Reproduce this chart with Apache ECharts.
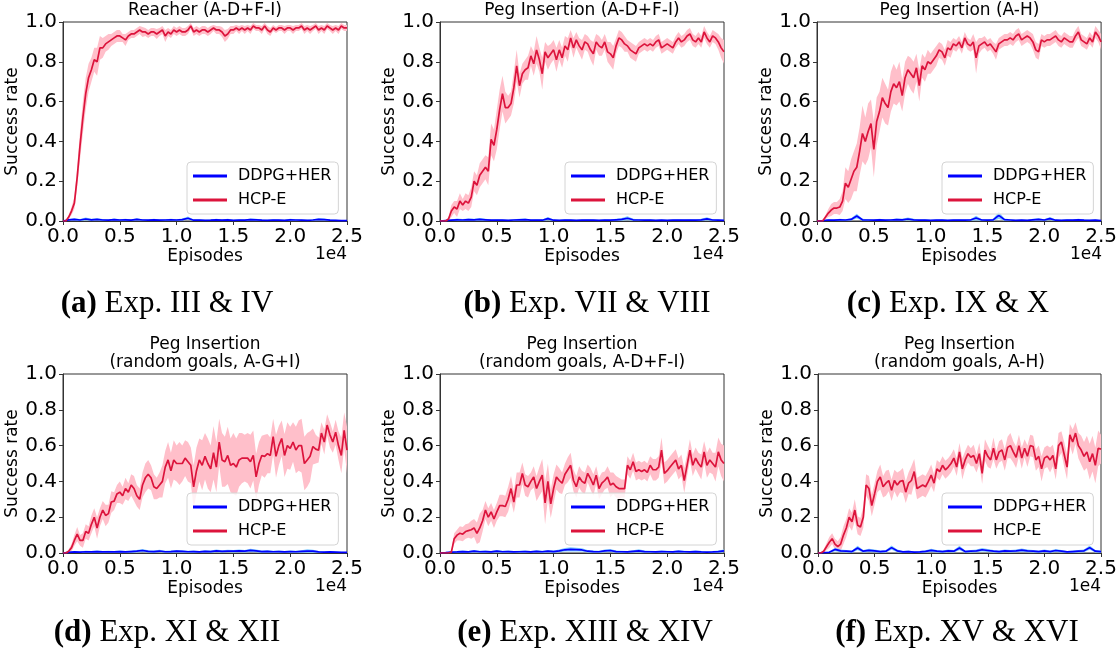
<!DOCTYPE html>
<html>
<head>
<meta charset="utf-8">
<script src="https://cdn.jsdelivr.net/npm/echarts@6/dist/echarts.min.js"></script>
<style>
  html, body { margin: 0; padding: 0; background: #fff; }
  #chart { width: 1120px; height: 655px; }
</style>
</head>
<body>
<div id="chart"></div>
<script>
// sampling step (episodes) of the read-off curves
const HCP_STEP = 250;
const DDPG_STEP = 500;

const panelTitles = [
  'Reacher (A-D+F-I)',
  'Peg Insertion (A-D+F-I)',
  'Peg Insertion (A-H)',
  'Peg Insertion\n(random goals, A-G+I)',
  'Peg Insertion\n(random goals, A-D+F-I)',
  'Peg Insertion\n(random goals, A-H)',
];
const captionTags = ['(a)', '(b)', '(c)', '(d)', '(e)', '(f)'];
const captionTexts = ['Exp. III & IV', 'Exp. VII & VIII', 'Exp. IX & X', 'Exp. XI & XII', 'Exp. XIII & XIV', 'Exp. XV & XVI'];
const seriesNames = ['DDPG+HER', 'HCP-E'];

// HCP-E mean / half-width of shaded band, one value every 250 episodes
const hcpMeanA = [0, 0, 0.02, 0.05, 0.09, 0.22, 0.38, 0.52, 0.64, 0.72,
  0.76, 0.81, 0.80, 0.87, 0.87, 0.89, 0.90, 0.91, 0.92, 0.93,
  0.93, 0.92, 0.91, 0.93, 0.94, 0.94, 0.95, 0.96, 0.95, 0.95,
  0.94, 0.95, 0.95, 0.94, 0.95, 0.96, 0.93, 0.95, 0.94, 0.96,
  0.95, 0.96, 0.95, 0.95, 0.96, 0.98, 0.95, 0.96, 0.95, 0.96,
  0.96, 0.95, 0.96, 0.97, 0.96, 0.96, 0.95, 0.93, 0.94, 0.96,
  0.96, 0.97, 0.96, 0.97, 0.96, 0.97, 0.96, 0.98, 0.97, 0.97,
  0.96, 0.98, 0.96, 0.95, 0.97, 0.96, 0.97, 0.97, 0.96, 0.97,
  0.97, 0.96, 0.97, 0.97, 0.98, 0.96, 0.97, 0.96, 0.97, 0.98,
  0.96, 0.97, 0.96, 0.98, 0.97, 0.96, 0.97, 0.96, 0.98, 0.97,
  0.97];
const hcpSpreadA = [0, 0, 0.01, 0.02, 0.03, 0.05, 0.07, 0.08, 0.08, 0.07,
  0.06, 0.06, 0.07, 0.06, 0.05, 0.04, 0.04, 0.03, 0.03, 0.03,
  0.03, 0.02, 0.03, 0.02, 0.02, 0.02, 0.02, 0.02, 0.025, 0.02,
  0.02, 0.02, 0.02, 0.025, 0.02, 0.02, 0.03, 0.02, 0.02, 0.02,
  0.02, 0.02, 0.02, 0.02, 0.02, 0.015, 0.02, 0.02, 0.02, 0.02,
  0.02, 0.02, 0.02, 0.015, 0.02, 0.02, 0.025, 0.03, 0.025, 0.02,
  0.02, 0.015, 0.02, 0.015, 0.02, 0.015, 0.02, 0.015, 0.015, 0.015,
  0.02, 0.015, 0.02, 0.02, 0.015, 0.015, 0.015, 0.015, 0.02, 0.015,
  0.015, 0.02, 0.015, 0.015, 0.015, 0.02, 0.015, 0.02, 0.015, 0.015,
  0.02, 0.015, 0.02, 0.015, 0.015, 0.02, 0.015, 0.02, 0.015, 0.015,
  0.015];

const hcpMeanB = [0, 0, 0, 0.01, 0.05, 0.07, 0.06, 0.10, 0.08, 0.10,
  0.09, 0.12, 0.20, 0.18, 0.23, 0.25, 0.27, 0.25, 0.41, 0.38,
  0.46, 0.56, 0.64, 0.57, 0.57, 0.59, 0.67, 0.78, 0.68, 0.74,
  0.76, 0.77, 0.83, 0.79, 0.86, 0.81, 0.74, 0.85, 0.82, 0.84,
  0.86, 0.81, 0.86, 0.82, 0.88, 0.86, 0.92, 0.87, 0.91, 0.88,
  0.86, 0.90, 0.89, 0.86, 0.84, 0.90, 0.88, 0.87, 0.90, 0.85,
  0.84, 0.82, 0.88, 0.92, 0.91, 0.89, 0.88, 0.86, 0.85, 0.84,
  0.87, 0.88, 0.89, 0.88, 0.89, 0.88, 0.90, 0.91, 0.87, 0.88,
  0.89, 0.88, 0.87, 0.90, 0.92, 0.90, 0.91, 0.93, 0.94, 0.91,
  0.90, 0.92, 0.90, 0.95, 0.92, 0.90, 0.93, 0.92, 0.90, 0.87,
  0.85];
const hcpSpreadB = [0, 0, 0, 0.01, 0.03, 0.03, 0.04, 0.04, 0.03, 0.04,
  0.04, 0.05, 0.05, 0.05, 0.06, 0.06, 0.06, 0.07, 0.08, 0.08,
  0.10, 0.10, 0.09, 0.08, 0.06, 0.06, 0.08, 0.08, 0.06, 0.05,
  0.05, 0.06, 0.05, 0.06, 0.07, 0.06, 0.08, 0.05, 0.06, 0.05,
  0.05, 0.06, 0.05, 0.05, 0.05, 0.06, 0.04, 0.05, 0.04, 0.04,
  0.05, 0.04, 0.04, 0.05, 0.06, 0.04, 0.05, 0.04, 0.04, 0.05,
  0.06, 0.06, 0.04, 0.04, 0.04, 0.04, 0.03, 0.04, 0.04, 0.04,
  0.03, 0.03, 0.03, 0.03, 0.03, 0.03, 0.03, 0.03, 0.03, 0.03,
  0.03, 0.03, 0.03, 0.03, 0.03, 0.03, 0.03, 0.03, 0.03, 0.03,
  0.03, 0.03, 0.03, 0.03, 0.03, 0.03, 0.03, 0.03, 0.04, 0.05,
  0.06];

const hcpMeanC = [0, 0, 0, 0.02, 0.04, 0.055, 0.065, 0.065, 0.07, 0.10,
  0.19, 0.17, 0.21, 0.25, 0.27, 0.35, 0.44, 0.40, 0.45, 0.49,
  0.36, 0.50, 0.55, 0.62, 0.59, 0.57, 0.65, 0.69, 0.67, 0.70,
  0.63, 0.72, 0.76, 0.74, 0.72, 0.77, 0.68, 0.78, 0.76, 0.80,
  0.79, 0.81, 0.83, 0.86, 0.85, 0.82, 0.87, 0.86, 0.89, 0.88,
  0.90, 0.87, 0.92, 0.89, 0.88, 0.90, 0.82, 0.88, 0.89, 0.90,
  0.88, 0.89, 0.87, 0.85, 0.89, 0.90, 0.91, 0.91, 0.92, 0.91,
  0.93, 0.94, 0.91, 0.92, 0.93, 0.92, 0.90, 0.86, 0.85, 0.91,
  0.90, 0.91, 0.91, 0.92, 0.93, 0.91, 0.90, 0.92, 0.91, 0.90,
  0.90, 0.93, 0.95, 0.91, 0.90, 0.89, 0.92, 0.90, 0.95, 0.93,
  0.90];
const hcpSpreadC = [0, 0, 0, 0.01, 0.02, 0.03, 0.03, 0.03, 0.04, 0.05,
  0.08, 0.08, 0.10, 0.10, 0.12, 0.12, 0.14, 0.12, 0.14, 0.12,
  0.14, 0.12, 0.10, 0.10, 0.10, 0.09, 0.10, 0.10, 0.09, 0.10,
  0.08, 0.08, 0.07, 0.08, 0.08, 0.07, 0.08, 0.06, 0.06, 0.06,
  0.05, 0.05, 0.05, 0.04, 0.04, 0.04, 0.04, 0.04, 0.03, 0.03,
  0.03, 0.03, 0.03, 0.03, 0.03, 0.04, 0.08, 0.04, 0.03, 0.03,
  0.03, 0.03, 0.03, 0.04, 0.03, 0.03, 0.03, 0.03, 0.03, 0.03,
  0.03, 0.03, 0.03, 0.03, 0.03, 0.03, 0.04, 0.04, 0.04, 0.03,
  0.03, 0.03, 0.03, 0.03, 0.03, 0.03, 0.03, 0.03, 0.03, 0.03,
  0.03, 0.03, 0.03, 0.03, 0.03, 0.03, 0.03, 0.03, 0.03, 0.03,
  0.04];

const hcpMeanD = [0, 0, 0.01, 0.03, 0.07, 0.105, 0.07, 0.07, 0.12, 0.11,
  0.16, 0.20, 0.14, 0.20, 0.24, 0.21, 0.22, 0.285, 0.29, 0.33,
  0.34, 0.32, 0.36, 0.34, 0.38, 0.36, 0.32, 0.30, 0.38, 0.42,
  0.44, 0.42, 0.37, 0.36, 0.38, 0.40, 0.48, 0.52, 0.46, 0.52,
  0.50, 0.50, 0.50, 0.53, 0.51, 0.49, 0.37, 0.46, 0.52, 0.49,
  0.54, 0.50, 0.47, 0.56, 0.48, 0.62, 0.52, 0.51, 0.545, 0.49,
  0.50, 0.48, 0.52, 0.53, 0.53, 0.53, 0.51, 0.545, 0.425, 0.50,
  0.545, 0.54, 0.555, 0.545, 0.65, 0.54, 0.60, 0.64, 0.545, 0.60,
  0.585, 0.62, 0.575, 0.60, 0.60, 0.50, 0.52, 0.54, 0.595, 0.58,
  0.575, 0.67, 0.62, 0.715, 0.66, 0.62, 0.675, 0.60, 0.545, 0.685,
  0.575];
const hcpSpreadD = [0, 0, 0.01, 0.02, 0.03, 0.04, 0.03, 0.04, 0.04, 0.04,
  0.05, 0.05, 0.06, 0.05, 0.05, 0.06, 0.05, 0.06, 0.05, 0.05,
  0.06, 0.05, 0.06, 0.05, 0.06, 0.07, 0.06, 0.06, 0.07, 0.08,
  0.08, 0.07, 0.07, 0.06, 0.07, 0.09, 0.09, 0.10, 0.10, 0.11,
  0.10, 0.12, 0.10, 0.10, 0.11, 0.10, 0.12, 0.13, 0.12, 0.14,
  0.13, 0.14, 0.13, 0.15, 0.14, 0.13, 0.15, 0.14, 0.16, 0.15,
  0.17, 0.16, 0.15, 0.14, 0.13, 0.14, 0.15, 0.14, 0.13, 0.12,
  0.11, 0.12, 0.11, 0.10, 0.10, 0.12, 0.11, 0.10, 0.12, 0.13,
  0.12, 0.11, 0.13, 0.14, 0.15, 0.15, 0.15, 0.14, 0.10, 0.08,
  0.07, 0.06, 0.07, 0.06, 0.07, 0.06, 0.07, 0.08, 0.10, 0.10,
  0.13];

const hcpMeanE = [0, 0, 0, 0, 0.005, 0.08, 0.10, 0.11, 0.105, 0.12,
  0.125, 0.13, 0.14, 0.11, 0.14, 0.18, 0.24, 0.20, 0.23, 0.19,
  0.23, 0.265, 0.265, 0.26, 0.30, 0.36, 0.285, 0.38, 0.38, 0.445,
  0.38, 0.37, 0.40, 0.425, 0.36, 0.40, 0.435, 0.28, 0.40, 0.275,
  0.36, 0.425, 0.405, 0.39, 0.44, 0.465, 0.49, 0.405, 0.37, 0.425,
  0.40, 0.39, 0.445, 0.415, 0.38, 0.435, 0.36, 0.39, 0.405, 0.425,
  0.38, 0.39, 0.37, 0.36, 0.36, 0.36, 0.49, 0.465, 0.51, 0.455,
  0.465, 0.455, 0.465, 0.45, 0.49, 0.465, 0.465, 0.48, 0.575, 0.445,
  0.46, 0.48, 0.50, 0.52, 0.47, 0.49, 0.405, 0.49, 0.575, 0.49,
  0.53, 0.50, 0.48, 0.565, 0.49, 0.52, 0.50, 0.48, 0.565, 0.52,
  0.50];
const hcpSpreadE = [0, 0, 0, 0, 0.01, 0.03, 0.03, 0.04, 0.04, 0.04,
  0.04, 0.05, 0.05, 0.06, 0.08, 0.06, 0.05, 0.05, 0.05, 0.05,
  0.05, 0.06, 0.06, 0.06, 0.07, 0.07, 0.06, 0.07, 0.07, 0.06,
  0.06, 0.06, 0.05, 0.06, 0.07, 0.08, 0.09, 0.12, 0.10, 0.08,
  0.08, 0.07, 0.07, 0.06, 0.06, 0.07, 0.07, 0.06, 0.06, 0.06,
  0.06, 0.06, 0.05, 0.06, 0.06, 0.05, 0.06, 0.06, 0.05, 0.06,
  0.07, 0.06, 0.06, 0.06, 0.05, 0.05, 0.05, 0.05, 0.05, 0.05,
  0.05, 0.05, 0.05, 0.05, 0.05, 0.06, 0.06, 0.06, 0.07, 0.06,
  0.06, 0.06, 0.06, 0.06, 0.06, 0.06, 0.07, 0.06, 0.06, 0.06,
  0.06, 0.06, 0.07, 0.06, 0.07, 0.07, 0.06, 0.08, 0.08, 0.09,
  0.10];

const hcpMeanF = [0, 0, 0.01, 0.035, 0.06, 0.08, 0.05, 0.035, 0.05, 0.10,
  0.14, 0.20, 0.175, 0.24, 0.155, 0.145, 0.20, 0.38, 0.36, 0.265,
  0.33, 0.40, 0.425, 0.37, 0.39, 0.405, 0.35, 0.405, 0.38, 0.40,
  0.405, 0.34, 0.39, 0.405, 0.455, 0.36, 0.37, 0.38, 0.37, 0.40,
  0.435, 0.39, 0.47, 0.455, 0.49, 0.465, 0.48, 0.50, 0.53, 0.48,
  0.565, 0.47, 0.52, 0.555, 0.535, 0.545, 0.50, 0.555, 0.445, 0.575,
  0.54, 0.52, 0.585, 0.52, 0.565, 0.575, 0.52, 0.59, 0.60, 0.565,
  0.535, 0.60, 0.53, 0.585, 0.54, 0.60, 0.595, 0.52, 0.54, 0.47,
  0.53, 0.54, 0.52, 0.545, 0.47, 0.60, 0.62, 0.55, 0.48, 0.66,
  0.62, 0.67, 0.60, 0.575, 0.54, 0.565, 0.51, 0.555, 0.49, 0.585,
  0.58];
const hcpSpreadF = [0, 0, 0.01, 0.02, 0.03, 0.03, 0.03, 0.03, 0.04, 0.05,
  0.05, 0.05, 0.05, 0.06, 0.05, 0.05, 0.06, 0.06, 0.07, 0.06,
  0.06, 0.06, 0.07, 0.06, 0.07, 0.06, 0.06, 0.06, 0.07, 0.06,
  0.07, 0.06, 0.06, 0.08, 0.07, 0.06, 0.06, 0.06, 0.06, 0.06,
  0.06, 0.05, 0.05, 0.05, 0.05, 0.05, 0.05, 0.05, 0.05, 0.05,
  0.05, 0.06, 0.05, 0.05, 0.05, 0.06, 0.05, 0.06, 0.06, 0.06,
  0.06, 0.05, 0.06, 0.05, 0.06, 0.06, 0.06, 0.06, 0.07, 0.06,
  0.06, 0.06, 0.06, 0.05, 0.06, 0.06, 0.06, 0.06, 0.06, 0.07,
  0.06, 0.06, 0.07, 0.06, 0.06, 0.07, 0.06, 0.07, 0.07, 0.06,
  0.07, 0.06, 0.07, 0.08, 0.08, 0.09, 0.10, 0.10, 0.10, 0.10,
  0.08];

// DDPG+HER mean / half-width, one value every 500 episodes
const ddpgMeanA = [0, 0.006, 0.008, 0.005, 0.010, 0.006, 0.008, 0.005, 0.004, 0.007,
  0.005, 0.006, 0.004, 0.008, 0.005, 0.004, 0.006, 0.004, 0.005, 0.006,
  0.005, 0.007, 0.014, 0.004, 0.005, 0.003, 0.004, 0.006, 0.004, 0.006,
  0.003, 0.005, 0.004, 0.007, 0.006, 0.004, 0.003, 0.005, 0.004, 0.003,
  0.006, 0.005, 0.004, 0.003, 0.005, 0.008, 0.007, 0.004, 0.003, 0.002,
  0.002];
const ddpgSpreadA = [0, 0.004, 0.006, 0.005, 0.008, 0.005, 0.006, 0.005, 0.004, 0.005,
  0.004, 0.005, 0.004, 0.006, 0.004, 0.004, 0.005, 0.004, 0.004, 0.005,
  0.004, 0.005, 0.008, 0.004, 0.004, 0.003, 0.004, 0.005, 0.004, 0.005,
  0.003, 0.004, 0.004, 0.005, 0.005, 0.004, 0.003, 0.004, 0.004, 0.003,
  0.005, 0.004, 0.004, 0.003, 0.004, 0.006, 0.005, 0.004, 0.003, 0.002,
  0.002];
const ddpgMeanB = [0, 0.002, 0.004, 0.006, 0.005, 0.007, 0.006, 0.008, 0.006, 0.004,
  0.005, 0.004, 0.003, 0.005, 0.006, 0.007, 0.004, 0.005, 0.004, 0.012,
  0.004, 0.003, 0.005, 0.004, 0.003, 0.004, 0.005, 0.004, 0.003, 0.005,
  0.004, 0.006, 0.008, 0.014, 0.006, 0.005, 0.004, 0.005, 0.003, 0.004,
  0.003, 0.004, 0.005, 0.004, 0.005, 0.004, 0.006, 0.011, 0.005, 0.004,
  0.003];
const ddpgSpreadB = [0, 0.002, 0.004, 0.006, 0.005, 0.006, 0.005, 0.007, 0.005, 0.004,
  0.004, 0.004, 0.003, 0.004, 0.005, 0.005, 0.004, 0.004, 0.004, 0.008,
  0.004, 0.003, 0.004, 0.004, 0.003, 0.004, 0.004, 0.004, 0.003, 0.004,
  0.004, 0.005, 0.007, 0.010, 0.005, 0.004, 0.004, 0.004, 0.003, 0.004,
  0.003, 0.004, 0.004, 0.004, 0.004, 0.004, 0.005, 0.008, 0.004, 0.004,
  0.003];
const ddpgMeanC = [0, 0.002, 0.005, 0.004, 0.006, 0.005, 0.008, 0.025, 0.006, 0.005,
  0.004, 0.006, 0.004, 0.005, 0.007, 0.006, 0.010, 0.006, 0.004, 0.005,
  0.003, 0.004, 0.005, 0.003, 0.004, 0.005, 0.004, 0.005, 0.015, 0.005,
  0.004, 0.006, 0.028, 0.007, 0.005, 0.003, 0.004, 0.003, 0.006, 0.008,
  0.005, 0.012, 0.004, 0.003, 0.005, 0.004, 0.006, 0.004, 0.003, 0.004,
  0.002];
const ddpgSpreadC = [0, 0.002, 0.004, 0.004, 0.005, 0.004, 0.006, 0.012, 0.005, 0.004,
  0.004, 0.005, 0.004, 0.004, 0.005, 0.005, 0.008, 0.005, 0.004, 0.004,
  0.003, 0.004, 0.004, 0.003, 0.004, 0.004, 0.004, 0.004, 0.012, 0.004,
  0.004, 0.005, 0.018, 0.006, 0.004, 0.003, 0.004, 0.003, 0.005, 0.006,
  0.004, 0.008, 0.004, 0.003, 0.004, 0.004, 0.005, 0.004, 0.003, 0.004,
  0.002];
const ddpgMeanD = [0, 0.004, 0.006, 0.005, 0.007, 0.006, 0.008, 0.006, 0.007, 0.006,
  0.008, 0.006, 0.008, 0.010, 0.014, 0.009, 0.008, 0.011, 0.007, 0.008,
  0.010, 0.009, 0.007, 0.008, 0.006, 0.009, 0.008, 0.012, 0.009, 0.011,
  0.010, 0.012, 0.010, 0.015, 0.012, 0.008, 0.009, 0.007, 0.008, 0.006,
  0.008, 0.007, 0.009, 0.011, 0.010, 0.006, 0.005, 0.006, 0.005, 0.004,
  0.003];
const ddpgSpreadD = [0, 0.003, 0.005, 0.004, 0.005, 0.005, 0.006, 0.005, 0.005, 0.005,
  0.006, 0.005, 0.006, 0.007, 0.008, 0.006, 0.006, 0.007, 0.005, 0.006,
  0.007, 0.006, 0.005, 0.006, 0.005, 0.006, 0.006, 0.008, 0.006, 0.007,
  0.007, 0.008, 0.007, 0.009, 0.008, 0.006, 0.007, 0.005, 0.006, 0.005,
  0.006, 0.005, 0.007, 0.010, 0.008, 0.005, 0.004, 0.005, 0.004, 0.003,
  0.003];
const ddpgMeanE = [0, 0.002, 0.005, 0.006, 0.008, 0.006, 0.010, 0.007, 0.008, 0.006,
  0.010, 0.007, 0.008, 0.006, 0.007, 0.008, 0.006, 0.009, 0.007, 0.010,
  0.008, 0.012, 0.018, 0.020, 0.019, 0.017, 0.010, 0.008, 0.007, 0.012,
  0.014, 0.008, 0.007, 0.006, 0.009, 0.012, 0.008, 0.007, 0.006, 0.008,
  0.007, 0.006, 0.009, 0.007, 0.006, 0.008, 0.006, 0.005, 0.006, 0.008,
  0.012];
const ddpgSpreadE = [0, 0.002, 0.004, 0.005, 0.006, 0.005, 0.007, 0.005, 0.006, 0.005,
  0.007, 0.005, 0.006, 0.005, 0.005, 0.006, 0.005, 0.006, 0.005, 0.007,
  0.006, 0.008, 0.010, 0.012, 0.010, 0.009, 0.007, 0.006, 0.005, 0.008,
  0.009, 0.006, 0.005, 0.005, 0.006, 0.009, 0.006, 0.005, 0.005, 0.006,
  0.005, 0.005, 0.007, 0.005, 0.005, 0.006, 0.005, 0.004, 0.005, 0.006,
  0.008];
const ddpgMeanF = [0, 0.002, 0.004, 0.020, 0.012, 0.010, 0.008, 0.028, 0.010, 0.015,
  0.012, 0.008, 0.010, 0.030, 0.012, 0.006, 0.008, 0.005, 0.006, 0.009,
  0.015, 0.010, 0.008, 0.012, 0.010, 0.028, 0.008, 0.010, 0.012, 0.018,
  0.014, 0.010, 0.008, 0.012, 0.010, 0.012, 0.016, 0.012, 0.010, 0.008,
  0.012, 0.008, 0.014, 0.010, 0.006, 0.008, 0.010, 0.012, 0.030, 0.010,
  0.008];
const ddpgSpreadF = [0, 0.002, 0.004, 0.010, 0.008, 0.007, 0.006, 0.012, 0.007, 0.009,
  0.008, 0.006, 0.007, 0.012, 0.008, 0.005, 0.006, 0.004, 0.005, 0.006,
  0.009, 0.007, 0.006, 0.008, 0.007, 0.012, 0.006, 0.007, 0.008, 0.010,
  0.009, 0.007, 0.006, 0.008, 0.007, 0.008, 0.009, 0.008, 0.007, 0.006,
  0.008, 0.006, 0.009, 0.007, 0.005, 0.006, 0.007, 0.008, 0.012, 0.007,
  0.006];

const hcpMeans = [hcpMeanA, hcpMeanB, hcpMeanC, hcpMeanD, hcpMeanE, hcpMeanF];
const hcpSpreads = [hcpSpreadA, hcpSpreadB, hcpSpreadC, hcpSpreadD, hcpSpreadE, hcpSpreadF];
const ddpgMeans = [ddpgMeanA, ddpgMeanB, ddpgMeanC, ddpgMeanD, ddpgMeanE, ddpgMeanF];
const ddpgSpreads = [ddpgSpreadA, ddpgSpreadB, ddpgSpreadC, ddpgSpreadD, ddpgSpreadE, ddpgSpreadF];

// layout: [left, top, width, height] of each plot box
const gridRects = [
  [63, 22, 284, 199], [440, 22, 284, 199], [817, 22, 285, 199],
  [63, 374, 284, 179], [440, 374, 284, 179], [818, 374, 283, 179],
];
const legendPos = [[187, 162], [565, 162], [942, 162], [187, 493], [565, 493], [942, 493]];
const captionPos = [[167, 304], [587, 304], [948, 304], [167, 633], [585, 633], [957, 633]];

const RED = '#dc143c';
const PINK = '#ffbfca';
const BLUE = '#0000ff';
const LIGHTBLUE = '#80ccff';
const AXIS = '#333';
const SANS = 'DejaVu Sans';

const chart = echarts.init(document.getElementById('chart'), null, { renderer: 'canvas' });

const bandSeries = (idx, mean, spread, step, color, name) => ({
  type: 'custom',
  name,
  xAxisIndex: idx,
  yAxisIndex: idx,
  silent: true,
  z: 1,
  data: [[0, 0]],
  renderItem: (params, api) => {
    const upper = [];
    const lower = [];
    mean.forEach((v, i) => {
      upper.push(api.coord([i * step, Math.min(1, v + spread[i])]));
      lower.push(api.coord([i * step, Math.max(0, v - spread[i])]));
    });
    return {
      type: 'polygon',
      shape: { points: upper.concat(lower.reverse()) },
      style: { fill: color },
    };
  },
});

const lineSeries = (idx, mean, step, color, name, z) => ({
  type: 'line',
  name,
  xAxisIndex: idx,
  yAxisIndex: idx,
  data: mean.map((v, i) => [i * step, v]),
  showSymbol: false,
  symbol: 'none',
  color,
  lineStyle: { color, width: 1.7 },
  z,
  silent: true,
});

const series = [];
gridRects.forEach((g, k) => {
  series.push(bandSeries(k, hcpMeans[k], hcpSpreads[k], HCP_STEP, PINK, 'HCP-E band'));
  series.push(bandSeries(k, ddpgMeans[k], ddpgSpreads[k], DDPG_STEP, LIGHTBLUE, 'DDPG+HER band'));
  series.push(lineSeries(k, ddpgMeans[k], DDPG_STEP, BLUE, seriesNames[0], 3));
  series.push(lineSeries(k, hcpMeans[k], HCP_STEP, RED, seriesNames[1], 4));
});

const graphic = [];
gridRects.forEach((g, k) => {
  const [left, top, width, height] = g;
  graphic.push({
    type: 'text', x: left + width / 2, y: top - 2, silent: true,
    style: {
      text: panelTitles[k], fontFamily: SANS, fontSize: 17, fill: '#000',
      align: 'center', verticalAlign: 'bottom', lineHeight: 18,
    },
  });
  graphic.push({
    type: 'text', x: left + width, y: top + height + 34, silent: true,
    style: {
      text: '1e4', fontFamily: SANS, fontSize: 17, fill: '#000',
      align: 'right', verticalAlign: 'middle',
    },
  });
  graphic.push({
    type: 'text', x: captionPos[k][0], y: captionPos[k][1], silent: true,
    style: {
      text: '{b|' + captionTags[k] + '} ' + captionTexts[k],
      fontFamily: 'Liberation Serif', fontSize: 31, fill: '#000',
      align: 'center', verticalAlign: 'middle',
      rich: { b: { fontFamily: 'Liberation Serif', fontSize: 31, fontWeight: 'bold', fill: '#000' } },
    },
  });
});

chart.setOption({
  animation: false,
  backgroundColor: '#fff',
  grid: gridRects.map(([left, top, width, height]) => ({
    left, top, width, height,
    show: true, borderColor: AXIS, borderWidth: 1, backgroundColor: 'transparent',
  })),
  xAxis: gridRects.map((g, k) => ({
    gridIndex: k,
    type: 'value',
    min: 0,
    max: 25000,
    interval: 5000,
    name: 'Episodes',
    nameLocation: 'middle',
    nameGap: 25,
    nameTextStyle: { fontFamily: SANS, fontSize: 17, color: '#000' },
    axisLine: { show: true, lineStyle: { color: AXIS, width: 1 } },
    axisTick: { show: true, length: 4, lineStyle: { color: AXIS } },
    axisLabel: {
      fontFamily: SANS, fontSize: 20, color: '#000', margin: 6,
      formatter: (v) => (v / 10000).toFixed(1),
    },
    splitLine: { show: false },
  })),
  yAxis: gridRects.map((g, k) => ({
    gridIndex: k,
    type: 'value',
    min: 0,
    max: 1,
    interval: 0.2,
    name: 'Success rate',
    nameLocation: 'middle',
    nameGap: 38,
    nameRotate: 90,
    nameTextStyle: { fontFamily: SANS, fontSize: 17, color: '#000' },
    axisLine: { show: true, lineStyle: { color: AXIS, width: 1 } },
    axisTick: { show: true, length: 4, lineStyle: { color: AXIS } },
    axisLabel: {
      fontFamily: SANS, fontSize: 20, color: '#000', margin: 6,
      formatter: (v) => v.toFixed(1),
    },
    splitLine: { show: false },
  })),
  legend: legendPos.map(([left, top]) => ({
    orient: 'vertical',
    left,
    top,
    data: seriesNames.map((name) => ({ name, icon: 'rect' })),
    itemWidth: 34,
    itemHeight: 3,
    itemGap: 4,
    padding: [4, 7, 4, 6],
    borderColor: '#d4d4d4',
    borderWidth: 1,
    borderRadius: 4,
    backgroundColor: 'rgba(255,255,255,0.8)',
    selectedMode: false,
    textStyle: { fontFamily: SANS, fontSize: 16, color: '#000', lineHeight: 20, padding: [0, 0, 0, 6] },
    z: 10,
  })),
  series,
  graphic,
});
</script>
</body>
</html>
